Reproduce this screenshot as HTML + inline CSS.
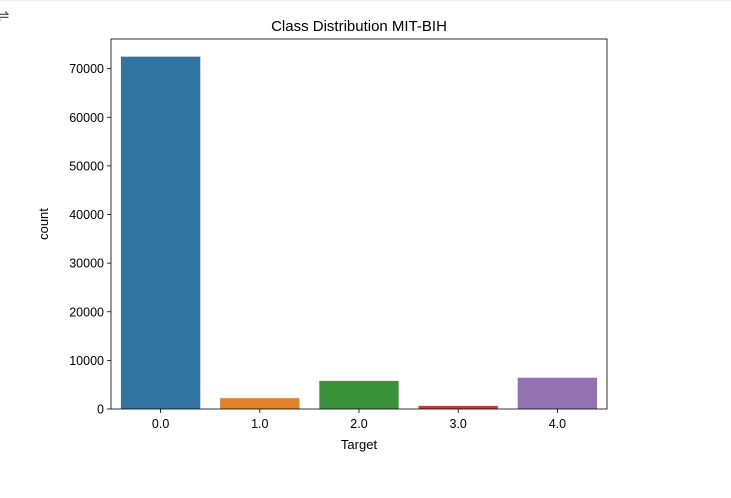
<!DOCTYPE html>
<html><head><meta charset="utf-8"><style>
body{margin:0;background:#fff;width:731px;height:498px;overflow:hidden;font-family:"Liberation Sans","DejaVu Sans",sans-serif}
</style></head><body>
<div style="position:absolute;left:0;top:0;width:731px;height:1px;background:#eee"></div>
<div style="position:absolute;left:-4px;top:6px;font-size:16px;color:#555">⇌</div>
<svg id="chart" width="731" height="498" style="position:absolute;left:0;top:0" font-family="Liberation Sans, DejaVu Sans, sans-serif"></svg>
<script>
const categories=["0.0","1.0","2.0","3.0","4.0"];
const counts=[72471,2223,5788,641,6431];
const colors=["#3274a1","#e1812c","#3a923a","#c03d3e","#9372b2"];
const yTicks=[0,10000,20000,30000,40000,50000,60000,70000];
const L=111,R=607,T=39,B=409,yMax=76100;
const svg=document.getElementById('chart');
const NS='http://www.w3.org/2000/svg';
function y(v){return B-(v/yMax)*(B-T);}
const band=(R-L)/categories.length;
function xc(i){return L+band*(i+0.5);}
function mk(tag,attrs,parent){const e=document.createElementNS(NS,tag);for(const k in attrs)e.setAttribute(k,attrs[k]);(parent||svg).appendChild(e);return e;}
counts.forEach((c,i)=>{
  const r=mk('rect',{x:xc(i)-band*0.4,y:y(c),width:band*0.8,height:B-y(c),fill:colors[i]});
  
  
  const t=mk('line',{x1:xc(i),x2:xc(i),y1:B,y2:B+4,stroke:'#000','stroke-width':0.8});
  
  
  const l=mk('text',{x:xc(i),y:B+19,'text-anchor':'middle','font-size':12.5});
  l.textContent=categories[i];
  
  
});
yTicks.forEach(v=>{
  const t=mk('line',{x1:L-4,x2:L,y1:y(v),y2:y(v),stroke:'#000','stroke-width':0.8});
  
  
  const l=mk('text',{x:L-7,y:y(v)+4.5,'text-anchor':'end','font-size':12.5});
  l.textContent=v;
  
  
});
const f=mk('rect',{x:L,y:T,width:R-L,height:B-T,fill:'none',stroke:'#000','stroke-width':0.8});


const ti=mk('text',{x:(L+R)/2,y:31,'text-anchor':'middle','font-size':15});
ti.textContent='Class Distribution MIT-BIH';


const xt=mk('text',{x:(L+R)/2,y:449,'text-anchor':'middle','font-size':13});
xt.textContent='Target';


const yt=mk('text',{x:0,y:0,'text-anchor':'middle','font-size':13,transform:'translate(48,'+((T+B)/2)+') rotate(-90)'});
yt.textContent='count';


</script>
</body></html>
